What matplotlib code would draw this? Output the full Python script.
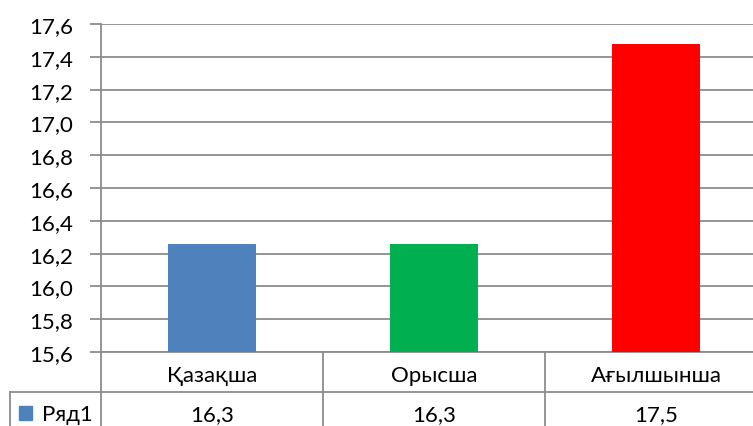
import matplotlib.pyplot as plt
import numpy as np
from matplotlib.patches import Rectangle

# data
categories = ["Қазақша", "Орысша", "Ағылшынша"]
values = [16.26, 16.26, 17.48]
table_values = [16.3, 16.3, 17.5]
series_name = "Ряд1"
bar_colors = ["#4f81bd", "#00b050", "#ff0000"]
y_ticks = np.arange(15.6, 17.61, 0.2)

plt.rcParams['font.family'] = ['Lato', 'DejaVu Sans']
grid_color = "#8c8c8c"
fs = 16

fig = plt.figure(figsize=(7.53, 4.27), dpi=100)
W, H = 753, 427
# plot area in pixels: left 101, right ~767, top 25, bottom 353
ax = fig.add_axes([101 / W, (H - 353) / H, 666 / W, 328 / H])

x = np.arange(len(categories))
ax.bar(x, values, width=0.4, color=bar_colors, zorder=3)

ax.set_xlim(-0.5, len(categories) - 0.5)
ax.set_ylim(15.6, 17.6)
ax.set_yticks(y_ticks)
ax.set_yticklabels([f"{t:.1f}".replace('.', ',') for t in y_ticks], fontsize=fs)
ax.set_xticks([])
ax.yaxis.grid(True, color=grid_color, linewidth=1.3, zorder=0)
ax.tick_params(axis='y', length=8, width=1.3, color=grid_color, pad=12)

for s in ['top', 'right']:
    ax.spines[s].set_visible(False)
for s in ['left', 'bottom']:
    ax.spines[s].set_color(grid_color)
    ax.spines[s].set_linewidth(1.3)

# data table below the plot (axes fraction coords)
tr = ax.transAxes
row1 = -40 / 328
row2 = -80 / 328
left_cell = -91 / 666
n = len(categories)
lkw = dict(color=grid_color, linewidth=1.3, transform=tr, clip_on=False)
for i in range(n + 1):
    ax.plot([i / n, i / n], [0, row2], **lkw)
ax.plot([left_cell, 1], [row1, row1], **lkw)
ax.plot([left_cell, left_cell], [row1, row2], **lkw)

for i, (c, v) in enumerate(zip(categories, table_values)):
    xc = (i + 0.5) / n
    ax.text(xc, row1 / 2 - 0.01, c, ha='center', va='center', fontsize=fs, transform=tr)
    ax.text(xc, (row1 + row2) / 2 - 0.005, f"{v:.1f}".replace('.', ','),
            ha='center', va='center', fontsize=fs, transform=tr)

# legend key in table
ax.add_patch(Rectangle((-82 / 666, -68 / 328), 13 / 666, 14 / 328, color=bar_colors[0],
                       transform=tr, clip_on=False))
ax.text(-59 / 666, (row1 + row2) / 2 - 0.005, series_name,
        ha='left', va='center', fontsize=fs, transform=tr)

fig.savefig("out.png", dpi=100)
